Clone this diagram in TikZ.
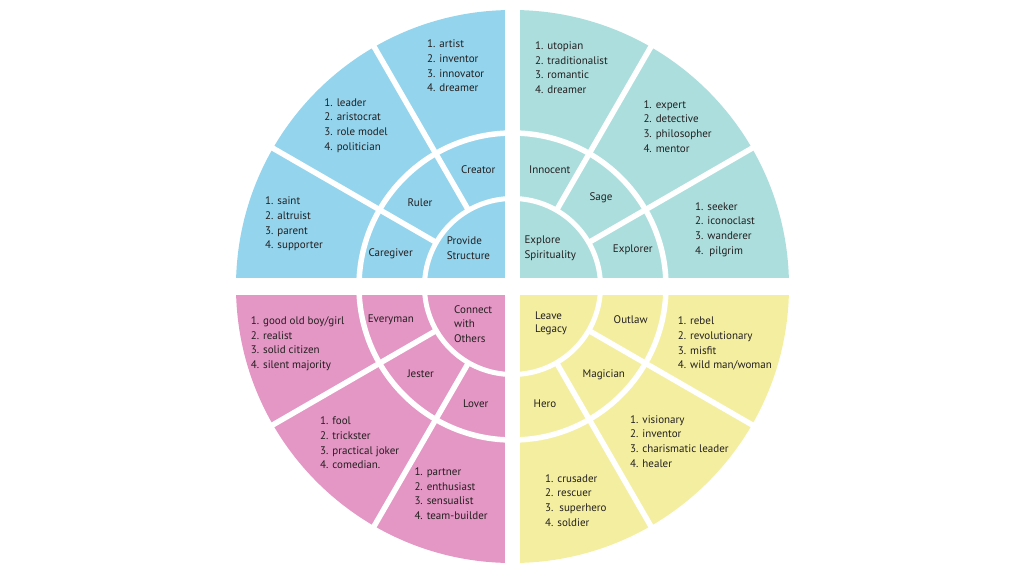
\documentclass[tikz,border=0pt]{standalone}
\usepackage{fontspec}
\setmainfont{PT Sans}
\usepackage{tikz}
\usetikzlibrary{calc, positioning}

\definecolor{quadblue}{RGB}{148,212,237}
\definecolor{quadteal}{RGB}{172,222,221}
\definecolor{quadpink}{RGB}{228,150,196}
\definecolor{quadyellow}{RGB}{244,239,160}
\definecolor{inkgray}{RGB}{35,31,32}

\begin{document}
\begin{tikzpicture}[x=1pt, y=1pt,
    gapline/.style={white, line width=5.5pt},
    traits/.style={align=left, anchor=west, inner sep=0pt, text=inkgray,
      font=\fontsize{11}{14.7}\selectfont},
    archetype/.style={inner sep=0pt, text=inkgray, font=\fontsize{11}{14}\selectfont},
    motive/.style={align=left, anchor=west, inner sep=0pt, text=inkgray,
      font=\fontsize{11}{15}\selectfont}]
  \useasboundingbox (-512.5,-287.5) rectangle (511.5,286.5);

  % quadrants
  \fill[quadblue] (0,0) -- (90:276.5) arc (90:180:276.5) -- cycle;
  \fill[quadteal] (0,0) -- (0:276.5) arc (0:90:276.5) -- cycle;
  \fill[quadpink] (0,0) -- (180:276.5) arc (180:270:276.5) -- cycle;
  \fill[quadyellow] (0,0) -- (270:276.5) arc (270:360:276.5) -- cycle;

  % rings and spokes
  \draw[gapline, line width=5pt] (0,0) circle (88);
  \draw[gapline] (0,0) circle (153.5);
  \foreach \a in {30,60,120,150,210,240,300,330}
    \draw[gapline] (\a:88) -- (\a:280);
  \fill[white] (-7.5,-290) rectangle (7.5,290);
  \fill[white] (-290,-8.5) rectangle (290,8.5);

  % blue
  \node[traits] (creatorlist) at (-85.5,220.7) {1. artist\\2. inventor\\3. innovator\\4. dreamer};
  \node[traits] (rulerlist) at (-188.2,161) {1. leader\\2. aristocrat\\3. role model\\4. politician};
  \node[traits] (caregiverlist) at (-247.5,62.5) {1. saint\\2. altruist\\3. parent\\4. supporter};
  \node[archetype] (creator) at (-34.2,116.5) {Creator};
  \node[archetype] (ruler) at (-92.5,83.8) {Ruler};
  \node[archetype] (caregiver) at (-121.8,32.5) {Caregiver};
  \node[motive] (structure) at (-65.8,38.2) {Provide\\Structure};

  % teal
  \node[traits] (innocentlist) at (22.5,219) {1. utopian\\2. traditionalist\\3. romantic\\4. dreamer};
  \node[traits] (sagelist) at (130.8,160.2) {1. expert\\2. detective\\3. philosopher\\4. mentor};
  \node[traits] (explorerlist) at (182.5,57) {1. seeker\\2. iconoclast\\3. wanderer\\4.\ \ pilgrim};
  \node[archetype] (innocent) at (37.2,117.2) {Innocent};
  \node[archetype] (sage) at (88.5,88.8) {Sage};
  \node[archetype] (explorer) at (120.3,37.2) {Explorer};
  \node[motive] (spirituality) at (11.8,38.2) {Explore\\Spirituality};

  % pink
  \node[traits] (everymanlist) at (-261.8,-57.2) {1. good old boy/girl\\2. realist\\3. solid citizen\\4. silent majority};
  \node[traits] (jesterlist) at (-192.5,-156.5) {1. fool\\2. trickster\\3. practical joker\\4. comedian.};
  \node[traits] (loverlist) at (-98.2,-207.2) {1. partner\\2. enthusiast\\3. sensualist\\4. team-builder};
  \node[archetype] (everyman) at (-121.7,-32.8) {Everyman};
  \node[archetype] (jester) at (-91.8,-86.8) {Jester};
  \node[archetype] (lover) at (-36.7,-116.8) {Lover};
  \node[motive, font=\fontsize{11}{14.3}\selectfont] (connect) at (-58.5,-37.5) {Connect\\with\\Others};

  % yellow
  \node[traits] (outlawlist) at (165.2,-57.2) {1. rebel\\2. revolutionary\\3. misfit\\4. wild man/woman};
  \node[traits] (magicianlist) at (117.5,-154.8) {1. visionary\\2. inventor\\3. charismatic leader\\4. healer};
  \node[traits] (herolist) at (32.5,-213.8) {1. crusader\\2. rescuer\\3.\ \ superhero\\4. soldier};
  \node[archetype] (outlaw) at (118.2,-33.5) {Outlaw};
  \node[archetype] (magician) at (91.3,-87.8) {Magician};
  \node[archetype] (hero) at (32.5,-116.8) {Hero};
  \node[motive, font=\fontsize{11}{13.5}\selectfont] (legacy) at (22.5,-36.8) {Leave\\Legacy};
\end{tikzpicture}
\end{document}
